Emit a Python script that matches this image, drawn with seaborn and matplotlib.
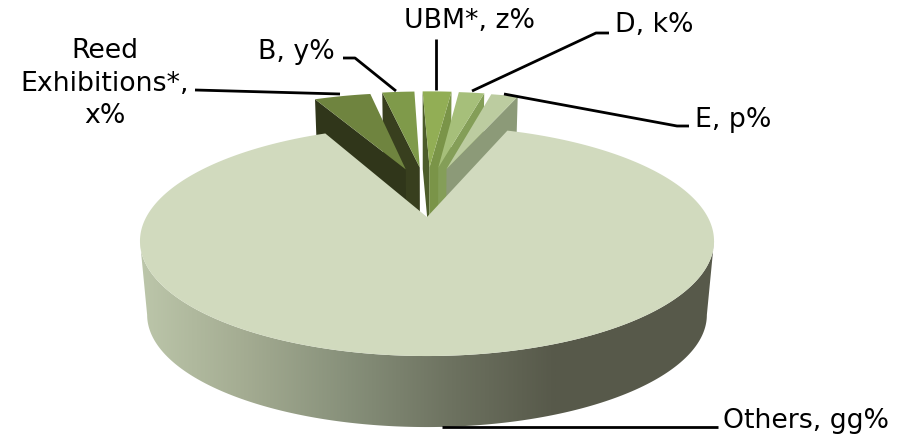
import matplotlib
matplotlib.use("Agg")
import matplotlib.pyplot as plt
from matplotlib.patches import Polygon
import numpy as np
import seaborn as sns

sns.set_theme(style="white")
plt.rcParams["font.family"] = ["DejaVu Sans"]

# Market shares, in percent, clockwise from the left edge of the small group
companies = ["Reed Exhibitions*", "B", "UBM*", "D", "E"]
shares = [4.2, 2.4, 2.15, 1.9, 2.0]
others_share = 87.35

top_colors = ["#6f843f", "#7f9a4a", "#92ae55", "#a6bf7a", "#bccca0"]
left_wall_colors = ["#30361a", "#383f1e", "#4c5c2a", "#5d7035", "#6d7a58"]
right_wall_colors = ["#30361a", "#383f1e", "#7a9448", "#849e58", "#8c9a78"]
others_top = "#d1dabe"
others_side = ["#bcc6aa", "#a4ac92", "#87907a", "#6d7260", "#57594a"]

# Perspective of the disc: pixels of the top and bottom faces
CX, TOP_Y, BOT_Y = 427.0, 217.0, 291.5
A, B, K, BOT_SCALE = 280.7, 110.0, 0.2088, 0.975
EXPLODE_U, EXPLODE_V = 0.27, 0.5


def project(u, v, bottom=False):
    s = BOT_SCALE if bottom else 1.0
    y0 = BOT_Y if bottom else TOP_Y
    w = 1 + K * np.asarray(v)
    return CX + s * A * np.asarray(u) / w, y0 - s * B * np.asarray(v) / w


def rim(theta, du=0.0, dv=0.0, bottom=False):
    t = np.radians(theta)
    x, y = project(np.sin(t) + du, np.cos(t) + dv, bottom)
    return np.column_stack([x, y])


def signed_area(p):
    x, y = p[:, 0], p[:, 1]
    return 0.5 * np.sum(x * np.roll(y, -1) - y * np.roll(x, -1))


fig = plt.figure(figsize=(9.08, 4.38), dpi=100)
ax = fig.add_axes([0, 0, 1, 1])
ax.set_xlim(0, 908)
ax.set_ylim(438, 0)
ax.axis("off")

# Angles follow from the shares; the small group sits slightly left of the back
start = -(sum(shares) / 100 * 360) * 0.56
edges = start + np.cumsum([0] + shares) / 100 * 360


def draw_slice(i):
    a0, a1 = edges[i], edges[i + 1]
    mid = np.radians((a0 + a1) / 2)
    du, dv = EXPLODE_U * np.sin(mid), EXPLODE_V * np.cos(mid)
    apex_top = np.array(project(du, dv))
    apex_bot = np.array(project(du, dv, True))
    arc_top = rim(np.linspace(a0, a1, 20), du, dv)
    left = np.array([apex_top, arc_top[0], rim(np.array([a0]), du, dv, True)[0], apex_bot])
    right = np.array([apex_top, arc_top[-1], rim(np.array([a1]), du, dv, True)[0], apex_bot])
    if signed_area(left) < 0:
        ax.add_patch(Polygon(left, closed=True, fc=left_wall_colors[i], ec="none", zorder=2))
    if signed_area(right) > 0:
        ax.add_patch(Polygon(right, closed=True, fc=right_wall_colors[i], ec="none", zorder=2))
    ax.add_patch(Polygon(np.vstack([apex_top, arc_top]), closed=True,
                         fc=top_colors[i], ec="none", zorder=2))


# Paint from the middle slice outwards so outer tops cover inner walls
for i in [2, 1, 3, 0, 4]:
    draw_slice(i)

# Front wall of the large slice, shaded from left to right
extreme = np.degrees(np.arccos(-K))
front = np.linspace(extreme, 360 - extreme, 200)
wall = Polygon(np.vstack([rim(front), rim(front, bottom=True)[::-1]]), closed=True,
               fc="none", ec="none", transform=ax.transData)
ax.add_patch(wall)
ramp = np.array(sns.blend_palette(others_side, 256))[None, :, :]
img = ax.imshow(ramp, extent=(140, 556, 438, 0), aspect="auto", zorder=3)
img.set_clip_path(wall)
dark_end = ax.imshow(ramp[:, -1:, :], extent=(556, 720, 438, 0), aspect="auto", zorder=3)
dark_end.set_clip_path(wall)
ax.set_xlim(0, 908)
ax.set_ylim(438, 0)

# Top face of the large slice
arc = np.linspace(edges[-1], edges[0] + 360, 400)
apex = np.array(project(0.0, 0.0))
ax.add_patch(Polygon(np.vstack([apex, rim(arc)]), closed=True, fc=others_top, ec="none", zorder=4))

# Labels and their leader lines
leaders = [
    ([195, 340], [90, 94]),
    ([343, 355, 396], [58, 58, 91]),
    ([436, 436], [39, 90]),
    ([609, 596, 472], [33, 33, 91]),
    ([504, 677, 689], [94, 126, 126]),
    ([442, 718], [427, 427]),
]
for xs, ys in leaders:
    ax.plot(xs, ys, color="black", lw=2.0, solid_capstyle="butt", zorder=5)

labels = [
    ("Reed", 105, 58, "center"),
    ("Exhibitions*,", 105, 91, "center"),
    ("x%", 105, 123, "center"),
    ("B, y%", 258, 59, "left"),
    ("UBM*, z%", 470, 28, "center"),
    ("D, k%", 615, 32, "left"),
    ("E, p%", 695, 127, "left"),
    ("Others, gg%", 723, 428, "left"),
]
for text, x, y, ha in labels:
    ax.text(x, y, text, ha=ha, va="baseline", fontsize=19.3, color="black", zorder=6)

fig.savefig("out.png", dpi=100)
